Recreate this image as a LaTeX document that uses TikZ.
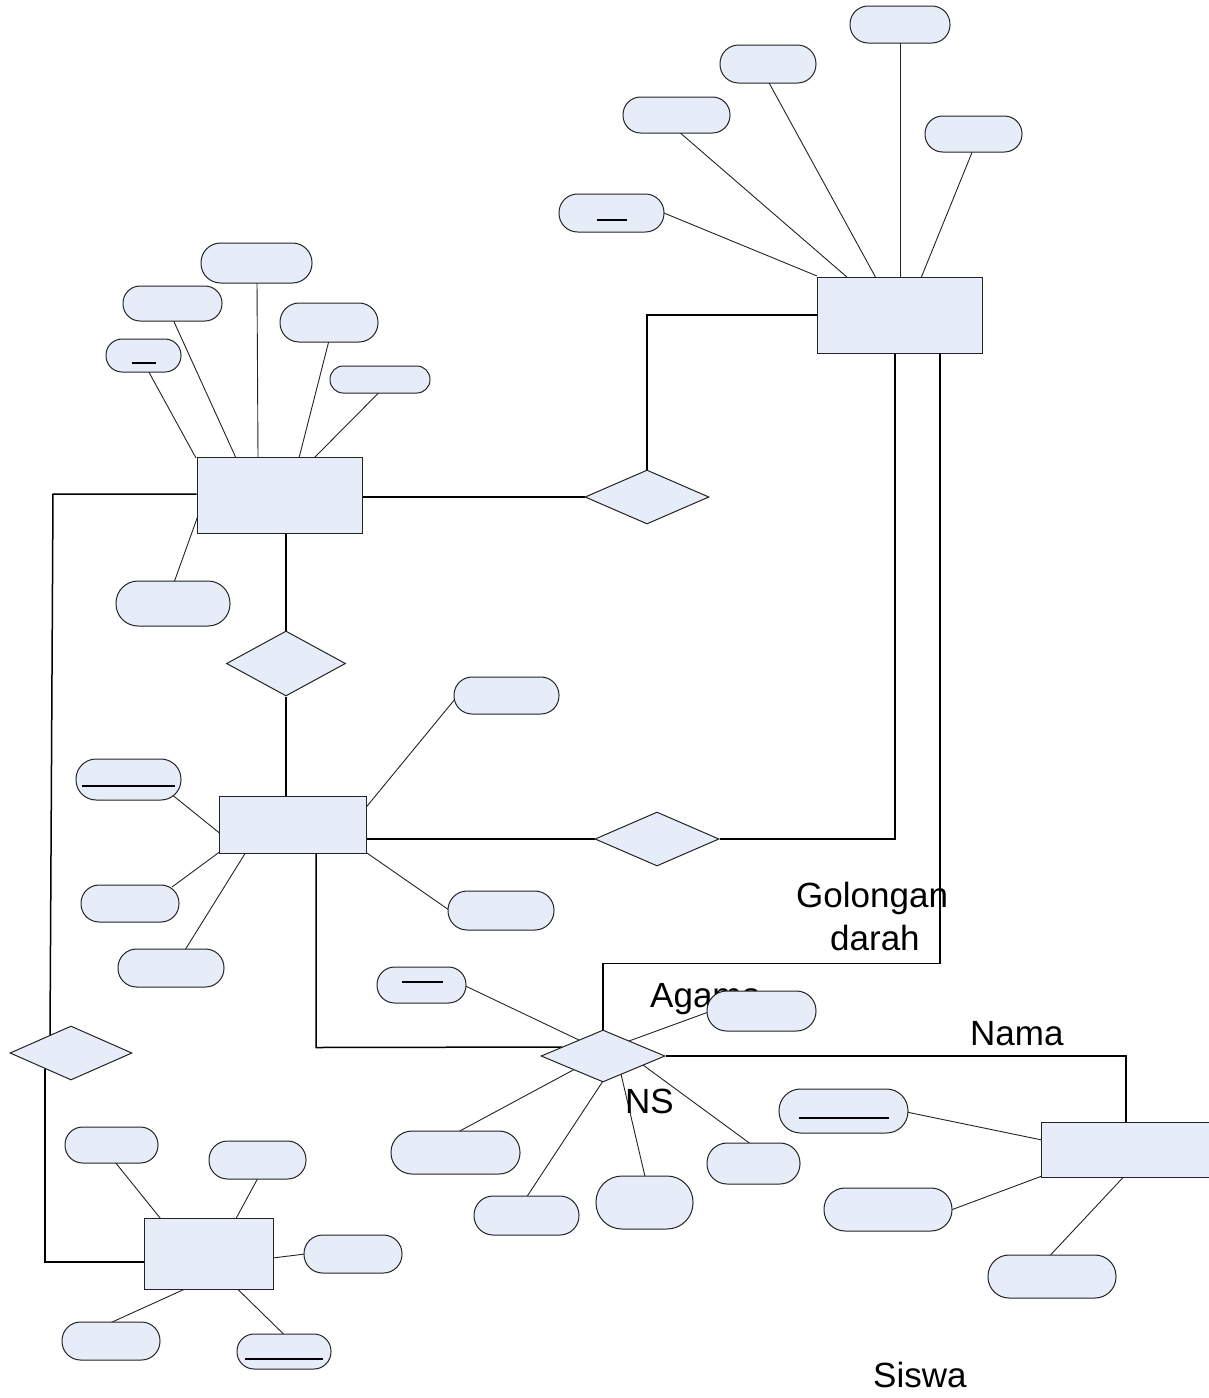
\documentclass[tikz,border=0pt]{standalone}
\usepackage{fontspec}
\setmainfont{Liberation Sans}
\usetikzlibrary{shapes.geometric}
\definecolor{ebox}{RGB}{230,237,248}
\definecolor{edge}{RGB}{35,35,35}
\pgfdeclarelayer{bg}
\pgfsetlayers{bg,main}
\tikzset{
  ent/.style 2 args={draw=edge, line width=1pt, fill=ebox, rectangle, inner sep=0pt, minimum width=#1pt, minimum height=#2pt},
  attr/.style 2 args={draw=edge, line width=1pt, fill=ebox, rectangle, inner sep=0pt, minimum width=#1pt, minimum height=#2pt, rounded corners=0.49*#2},
  rel/.style 2 args={draw=edge, line width=1pt, fill=ebox, diamond, inner sep=0pt, minimum width=#1pt, minimum height=#2pt},
  thin/.style={draw=edge, line width=0.9pt},
  thick/.style={draw=black, line width=1.5pt},
  uline/.style={draw=black, line width=1.4pt},
  lbl/.style={inner sep=0pt, anchor=base west, font=\fontsize{35}{40}\selectfont}
}
\begin{document}
\begin{tikzpicture}[x=1pt,y=-1pt]
\useasboundingbox (0,0) rectangle (1209,1398);
% labels (drawn before nodes, so boxes cover them)
\node[lbl] (tGol) at (796,907) {Golongan};
\node[lbl] (tDar) at (830,950) {darah};
\node[lbl] (tAga) at (650,1007) {Agama};
\node[lbl] (tNam) at (970,1045) {Nama};
\node[lbl] (tNS) at (625,1113) {NS};
\node[lbl] (tSis) at (873,1387) {Siswa};
% entities
\node[ent={165}{76}] (E1) at (899.5,315) {};
\node[ent={165}{76}] (E2) at (279.5,495) {};
\node[ent={147}{57}] (E3) at (292.5,824.5) {};
\node[ent={174}{55}] (E4) at (1128,1149.5) {};
\node[ent={129}{71}] (E5) at (208.5,1253.5) {};
% relationships
\node[rel={124}{54}] (D1) at (647,497) {};
\node[rel={119}{65}] (D2) at (286,663.5) {};
\node[rel={124}{54}] (D3) at (657,839) {};
\node[rel={122}{54}] (D4) at (71,1053) {};
\node[rel={124}{52}] (D5) at (603,1056) {};
% attributes
\node[attr={105}{38}] (A1) at (611.5,213) {};
\node[attr={107}{36}] (A2) at (676.5,115) {};
\node[attr={96}{38}] (A3) at (768,64) {};
\node[attr={100}{37}] (A4) at (900,24.5) {};
\node[attr={97}{36}] (A5) at (973.5,134) {};
\node[attr={75}{33}] (B1) at (143.5,355.5) {};
\node[attr={99}{35}] (B2) at (172.5,303.5) {};
\node[attr={111}{40}] (B3) at (256.5,263) {};
\node[attr={98}{39}] (B4) at (329,322.5) {};
\node[attr={100}{27}] (B5) at (380,379.5) {};
\node[attr={114}{45}] (B6) at (173,603.5) {};
\node[attr={105}{37}] (C1) at (506.5,695.5) {};
\node[attr={105}{41}] (C2) at (128.5,779.5) {};
\node[attr={98}{37}] (C3) at (130,903.5) {};
\node[attr={106}{38}] (C4) at (171,968) {};
\node[attr={106}{39}] (C5) at (501,910.5) {};
\node[attr={89}{36}] (G1) at (421.5,985) {};
\node[attr={109}{40}] (G2) at (761.5,1011) {};
\node[attr={129}{43}] (G3) at (455.5,1152.5) {};
\node[attr={105}{39}] (G4) at (526.5,1215.5) {};
\node[attr={97}{53}] (G5) at (644.5,1202.5) {};
\node[attr={93}{41}] (G6) at (753.5,1163.5) {};
\node[attr={129}{44}] (F1) at (843.5,1111) {};
\node[attr={128}{43}] (F2) at (888,1209.5) {};
\node[attr={128}{43}] (F3) at (1052,1276.5) {};
\node[attr={93}{36}] (H1) at (111.5,1145) {};
\node[attr={97}{38}] (H2) at (257.5,1160) {};
\node[attr={98}{38}] (H3) at (353,1254) {};
\node[attr={98}{38}] (H4) at (111,1341) {};
\node[attr={94}{35}] (H5) at (284,1351.5) {};
% underlines of key attributes
\draw[uline] ([shift={(-14.5,7)}]A1.center) -- ([shift={(15.5,7)}]A1.center);
\draw[uline] ([shift={(-11.5,7.5)}]B1.center) -- ([shift={(12.5,7.5)}]B1.center);
\draw[uline] ([shift={(-46.5,6.5)}]C2.center) -- ([shift={(46.5,6.5)}]C2.center);
\draw[uline] ([shift={(-19.5,-3)}]G1.center) -- ([shift={(21.5,-3)}]G1.center);
\draw[uline] ([shift={(-44.5,7)}]F1.center) -- ([shift={(45.5,7)}]F1.center);
\draw[uline] ([shift={(-39,7.5)}]H5.center) -- ([shift={(39,7.5)}]H5.center);
% free bend points
\coordinate (k10) at (53,494);
\begin{pgfonlayer}{bg}
% attribute connectors
\draw[thin] ([shift={(50,-1)}]A1.center) -- ([shift={(-82.5,-39)}]E1.center);
\draw[thin] ([shift={(1.5,16)}]A2.center) -- ([shift={(-51.5,-37)}]E1.center);
\draw[thin] ([shift={(0,17)}]A3.center) -- ([shift={(-23.5,-37)}]E1.center);
\draw[thin] ([shift={(0,17)}]A4.center) -- ([shift={(0.5,-37)}]E1.center);
\draw[thin] ([shift={(-0.5,16)}]A5.center) -- ([shift={(21.5,-37)}]E1.center);
\draw[thin] ([shift={(4.5,15)}]B1.center) -- ([shift={(-83.5,-37)}]E2.center);
\draw[thin] ([shift={(0.5,16)}]B2.center) -- ([shift={(-43.5,-37)}]E2.center);
\draw[thin] ([shift={(0.5,18)}]B3.center) -- ([shift={(-21.5,-37)}]E2.center);
\draw[thin] ([shift={(0,18)}]B4.center) -- ([shift={(19.5,-37)}]E2.center);
\draw[thin] ([shift={(0,12)}]B5.center) -- ([shift={(34.5,-37)}]E2.center);
\draw[thin] ([shift={(1,-21)}]B6.center) -- ([shift={(-82,22)}]E2.center);
\draw[thin] ([shift={(-51,3)}]C1.center) -- ([shift={(73,-16.5)}]E3.center);
\draw[thin] ([shift={(42,14)}]C2.center) -- ([shift={(-73,8.5)}]E3.center);
\draw[thin] ([shift={(42,-16.5)}]C3.center) -- ([shift={(-73,27.5)}]E3.center);
\draw[thin] ([shift={(14,-18)}]C4.center) -- ([shift={(-46.5,27.5)}]E3.center);
\draw[thin] ([shift={(-52,-0.5)}]C5.center) -- ([shift={(73,27.5)}]E3.center);
\draw[thin] ([shift={(44,1)}]G1.center) -- ([shift={(-22,-15)}]D5.center);
\draw[thin] ([shift={(-53,1)}]G2.center) -- ([shift={(26,-15)}]D5.center);
\draw[thin] ([shift={(1.5,-20)}]G3.center) -- ([shift={(-28,13)}]D5.center);
\draw[thin] ([shift={(0.5,-19)}]G4.center) -- ([shift={(0,25)}]D5.center);
\draw[thin] ([shift={(0.5,-26)}]G5.center) -- ([shift={(18,18)}]D5.center);
\draw[thin] ([shift={(-3.5,-20)}]G6.center) -- ([shift={(40,9)}]D5.center);
\draw[thin] ([shift={(63,1)}]F1.center) -- ([shift={(-86,-9.5)}]E4.center);
\draw[thin] ([shift={(63,0.5)}]F2.center) -- ([shift={(-86,26.5)}]E4.center);
\draw[thin] ([shift={(-2,-21)}]F3.center) -- ([shift={(-4,27)}]E4.center);
\draw[thin] ([shift={(3.5,17)}]H1.center) -- ([shift={(-48,-35)}]E5.center);
\draw[thin] ([shift={(0.5,18)}]H2.center) -- ([shift={(27.5,-35)}]E5.center);
\draw[thin] ([shift={(-48,0)}]H3.center) -- ([shift={(64,4.5)}]E5.center);
\draw[thin] ([shift={(-1,-18)}]H4.center) -- ([shift={(-22.5,35)}]E5.center);
\draw[thin] ([shift={(0,-17)}]H5.center) -- ([shift={(28.5,35)}]E5.center);
% relationship connectors
\draw[thick] (D1.west -| E2.east) -- (D1.west);
\draw[thick] (D1.north) |- (E1.west);
\draw[thick] (D2.north |- E2.south) -- (D2.north);
\draw[thick] (D2.south) -- (D2.south |- E3.north);
\draw[thick] (E3.east |- D3.west) -- (D3.west);
\draw[thick] (D3.east) -| ([xshift=-4.5]E1.south);
\draw[thick] ([xshift=40.5]E1.south) -- ++(0,610) -| (D5.north);
\draw[thick] ([xshift=23.5]E3.south) -- ++(0,194) -- ([shift={(-41,-9)}]D5.center);
\draw[thick] (D5.east) -| ([xshift=-2]E4.north);
\draw[thick] ([shift={(0,-1)}]E2.west) -- (k10) -- ([shift={(-21,-17)}]D4.center);
\draw[thick] ([shift={(-26,15.5)}]D4.center) |- ([shift={(0,8.5)}]E5.west);
\end{pgfonlayer}
\end{tikzpicture}
\end{document}
